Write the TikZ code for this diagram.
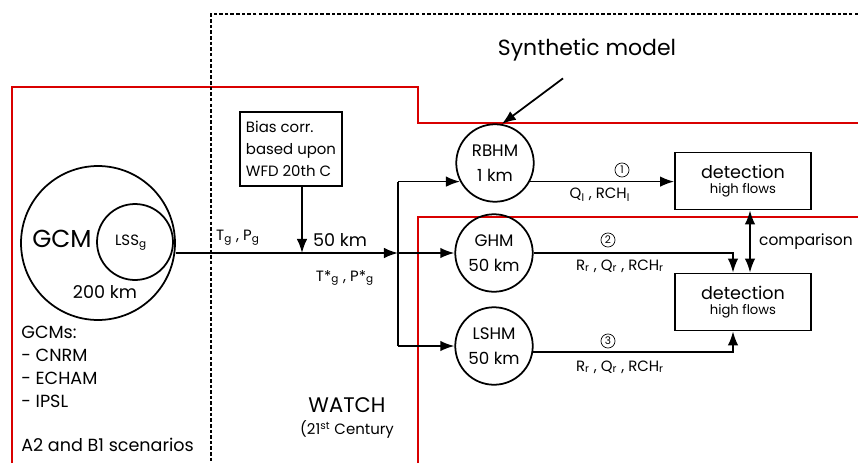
\documentclass[tikz,border=0pt]{standalone}
\usepackage{fontspec}
\setmainfont{Poppins}
\usetikzlibrary{arrows.meta,positioning}

\begin{document}
\begin{tikzpicture}[
    x=0.02cm, y=-0.02cm,
    model/.style={circle, draw, line width=1pt, minimum size=1.55cm, inner sep=0pt, align=center, font=\fontsize{9.5}{14}\selectfont},
    detect/.style={rectangle, draw, line width=1pt, minimum width=2.72cm, minimum height=1.14cm, align=center, font=\fontsize{10}{12}\selectfont},
    line/.style={draw, -{Latex[length=8pt,width=6pt]}, line width=1pt},
    border/.style={draw=red!85!black, line width=1pt},
    lbl/.style={font=\fontsize{8.5}{10}\selectfont, inner sep=1pt},
    num/.style={circle, draw, line width=0.4pt, inner sep=0.5pt, minimum size=8pt, font=\fontsize{6}{6}\selectfont}
]
    \useasboundingbox (0,0) rectangle (858,463);

    % Regions
    \draw[border] (12,463) -- (12,87) -- (418,87) -- (418,123) -- (858,123);
    \draw[border] (418,463) -- (418,217) -- (858,217);
    \draw[line width=0.8pt, dash pattern=on 2pt off 1.2pt] (858,14) -- (211,14) -- (211,463);

    % GCM
    \node [circle, draw, line width=1pt, minimum size=3.08cm] (gcm) at (98,243) {};
    \node [circle, draw, line width=1pt, minimum size=1.52cm] (lss) at (135,242) {};
    \node [font=\fontsize{14}{16}\selectfont] (gcmtxt) at (62,239) {GCM};
    \node [lbl] (lsstxt) at (131,243) {LSS\textsubscript{g}};
    \node [font=\fontsize{10}{12}\selectfont] (res) at (105,292) {200 km};
    \node [anchor=north west, inner sep=0pt, align=left, font=\fontsize{10}{13}\selectfont] (gcmlist) at (21,326)
        {GCMs:\\- CNRM\\- ECHAM\\- IPSL\\[12pt]A2 and B1 scenarios};

    % WATCH
    \node [align=center, font=\fontsize{12}{14}\selectfont] (watch) at (347,418)
        {WATCH\\[-2pt]{\fontsize{8.5}{10}\selectfont (21\textsuperscript{st} Century}};

    % Bias correction
    \node [rectangle, draw, line width=1pt, minimum width=1.8cm, minimum height=1.48cm, align=left, font=\fontsize{8.5}{12.5}\selectfont] (bias) at (291,149)
        {Bias corr.\\based upon\\WFD 20th C};

    % Split to models
    \coordinate (split) at (398,253);
    \path [line] ([yshift=-0.2cm]gcm.east) -- (split);
    \coordinate (biasout) at ([xshift=0.22cm]bias.south);
    \path [line] (biasout) -- (biasout |- split);
    \node [lbl] (tp) at (238,238) {T\textsubscript{g} , P\textsubscript{g}};
    \node [font=\fontsize{10}{12}\selectfont] (km50) at (340,240) {50 km};
    \node [lbl] (tpstar) at (345,278) {T*\textsubscript{g} , P*\textsubscript{g}};

    % Models
    \node [model] (rbhm) at (495,163) {RBHM\\1 km};
    \node [model] (ghm) at (494,253) {GHM\\50 km};
    \node [model] (lshm) at (494,346) {LSHM\\50 km};

    \coordinate (top) at (split |- rbhm.208);
    \coordinate (bottom) at (split |- lshm.west);
    \draw [line width=1pt] (top) -- (bottom);
    \path [line] (top) -- (rbhm.208);
    \path [line] (split) -- (ghm.west);
    \path [line] (bottom) -- (lshm.west);

    % Synthetic model
    \node [font=\fontsize{12.5}{14}\selectfont] (synth) at (587,50) {Synthetic model};
    \path [line] ([xshift=-0.48cm,yshift=-0.22cm]synth.south) -- (rbhm.80);

    % Detection
    \node [detect] (det1) at (743,181) {detection\\[-3pt]{\fontsize{7.5}{9}\selectfont high flows}};
    \node [detect] (det2) at (743,302) {detection\\[-3pt]{\fontsize{7.5}{9}\selectfont high flows}};

    \path [line] (rbhm.-28) -- (rbhm.-28 -| det1.west);
    \coordinate (in2) at ([xshift=-0.2cm]det2.north);
    \coordinate (in3) at ([xshift=-0.2cm]det2.south);
    \path [line] (ghm.east) -| (in2);
    \path [line] (lshm.-9) -| (in3);
    \path [draw, {Latex[length=8pt,width=6pt]}-{Latex[length=8pt,width=6pt]}, line width=1pt]
        ([xshift=0.14cm]det1.south) -- ([xshift=0.14cm]det2.north);
    \node [anchor=west, inner sep=1pt, font=\fontsize{8.8}{11}\selectfont] (comp) at (757,242) {comparison};

    % Flow labels
    \node [num] (n1) at (622,170) {1};
    \node [lbl] (q1) at (600,195) {Q\textsubscript{l} , RCH\textsubscript{l}};
    \node [num] (n2) at (608,240) {2};
    \node [lbl] (q2) at (620,266) {R\textsubscript{r} , Q\textsubscript{r} , RCH\textsubscript{r}};
    \node [num] (n3) at (608,341) {3};
    \node [lbl] (q3) at (620,367) {R\textsubscript{r} , Q\textsubscript{r} , RCH\textsubscript{r}};

\end{tikzpicture}
\end{document}
